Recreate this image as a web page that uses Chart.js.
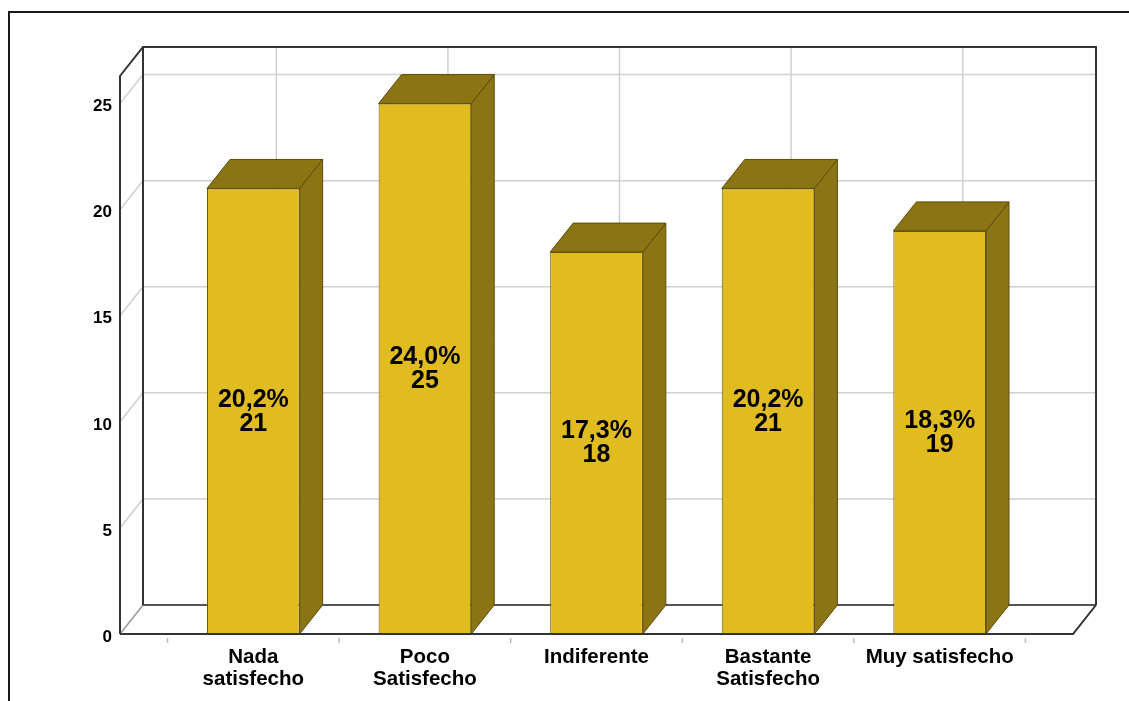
<!DOCTYPE html>
<html>
<head>
<meta charset="utf-8">
<script src="https://cdn.jsdelivr.net/npm/chart.js@4.4.1/dist/chart.umd.min.js"></script>
<style>
  html, body { margin: 0; padding: 0; background: #fff; }
  #wrap { width: 1129px; height: 701px; }
</style>
</head>
<body>
<div id="wrap"><canvas id="myChart" width="1129" height="701"></canvas></div>
<script>
'use strict';
const categories = [['Nada', 'satisfecho'], ['Poco', 'Satisfecho'], ['Indiferente'], ['Bastante', 'Satisfecho'], ['Muy satisfecho']];
const counts = [21, 25, 18, 21, 19];
const percents = [20.2, 24.0, 17.3, 20.2, 18.3];
const yTicks = [0, 5, 10, 15, 20, 25];

// depth of the 3D box (pixels)
const DX = 23;
const DY = 29;
const FONT = '"Liberation Sans", Arial, sans-serif';

function line(c, pts, color, width) {
  c.strokeStyle = color;
  c.lineWidth = width;
  c.beginPath();
  c.moveTo(pts[0][0], pts[0][1]);
  for (let i = 1; i < pts.length; i++) c.lineTo(pts[i][0], pts[i][1]);
  c.stroke();
}

function poly(c, pts, fill, stroke) {
  c.beginPath();
  c.moveTo(pts[0][0], pts[0][1]);
  for (let i = 1; i < pts.length; i++) c.lineTo(pts[i][0], pts[i][1]);
  c.closePath();
  c.fillStyle = fill;
  c.fill();
  c.strokeStyle = stroke;
  c.lineWidth = 1;
  c.stroke();
}

const box3d = {
  id: 'box3d',
  beforeDraw(chart) {
    const c = chart.ctx;
    c.save();
    c.fillStyle = '#fff';
    c.fillRect(0, 0, chart.width, chart.height);
    line(c, [[9, chart.height], [9, 12], [chart.width, 12]], '#1a1a1a', 2);
    c.restore();
  },
  beforeDatasetsDraw(chart) {
    const c = chart.ctx;
    const { left, right, top, bottom } = chart.chartArea;
    const xs = chart.scales.x, ys = chart.scales.y;
    c.save();
    // back wall and left wall grid
    yTicks.forEach(v => {
      if (v === 0) return;
      const py = ys.getPixelForValue(v);
      line(c, [[left, py], [left + DX, py - DY], [right + DX, py - DY]], '#d0d0d0', 1.5);
    });
    categories.forEach((_, i) => {
      const px = xs.getPixelForValue(i) + DX;
      line(c, [[px, top - DY], [px, bottom - DY]], '#d0d0d0', 1.5);
    });
    // floor
    line(c, [[left, bottom], [left + DX, bottom - DY]], '#999', 1.5);
    line(c, [[left + DX, bottom - DY], [right + DX, bottom - DY]], '#555', 2);
    // box frame
    line(c, [[left, bottom], [left, top], [left + DX, top - DY], [right + DX, top - DY], [right + DX, bottom - DY]], '#333', 2);
    line(c, [[left + DX, top - DY], [left + DX, bottom - DY]], '#333', 2);
    c.restore();
  },
  afterDatasetsDraw(chart) {
    const c = chart.ctx;
    const { left, right, bottom } = chart.chartArea;
    const xs = chart.scales.x;
    const meta = chart.getDatasetMeta(0);
    c.save();
    meta.data.forEach(bar => {
      const { x, y, base, width } = bar.getProps(['x', 'y', 'base', 'width'], true);
      const x0 = x - width / 2, x1 = x + width / 2;
      // side face
      poly(c, [[x1, y], [x1 + DX, y - DY], [x1 + DX, base - DY], [x1, base]], '#8a7414', '#5c4d0c');
      // top face
      poly(c, [[x0, y], [x0 + DX, y - DY], [x1 + DX, y - DY], [x1, y]], '#8a7414', '#5c4d0c');
    });
    // front floor edge and category ticks
    line(c, [[left, bottom], [right, bottom], [right + DX, bottom - DY]], '#333', 2);
    for (let i = 0; i <= categories.length; i++) {
      const px = xs.getPixelForValue(i - 0.5);
      line(c, [[px, bottom + 4], [px, bottom + 9]], '#bbb', 1.5);
    }
    // value labels
    c.fillStyle = '#000';
    c.font = 'bold 25px ' + FONT;
    c.textAlign = 'center';
    c.textBaseline = 'middle';
    meta.data.forEach((bar, i) => {
      const { x, y, base } = bar.getProps(['x', 'y', 'base'], true);
      const mid = (y + base) / 2;
      c.fillText(percents[i].toFixed(1).replace('.', ',') + '%', x, mid - 11.5);
      c.fillText(String(counts[i]), x, mid + 12.5);
    });
    c.restore();
  }
};

const myChart = new Chart(document.getElementById('myChart'), {
  type: 'bar',
  data: {
    datasets: [
      {
        label: 'Frecuencia',
        data: counts.map((v, i) => ({ x: i, y: v })),
        backgroundColor: '#e1bc20',
        borderColor: '#6b5a10',
        borderWidth: 1,
        barPercentage: 0.54,
        categoryPercentage: 1,
      },
    ],
  },
  options: {
    responsive: false,
    animation: false,
    layout: { padding: { top: 76, right: 56, left: 0, bottom: 0 } },
    plugins: { legend: { display: false }, tooltip: { enabled: false } },
    scales: {
      x: {
        type: 'linear',
        offset: false,
        min: -0.777,
        max: 4.777,
        grid: { display: false, offset: false },
        border: { display: false },
        afterBuildTicks: scale => {
          scale.ticks = categories.map((_, i) => ({ value: i }));
        },
        afterFit: scale => { scale.height = 67; },
        ticks: {
          autoSkip: false,
          maxRotation: 0,
          padding: 5,
          color: '#000',
          font: { family: FONT, size: 20.5, weight: 'bold', lineHeight: 1.05 },
          callback: value => categories[value],
        },
      },
      y: {
        min: 0,
        max: 26.3,
        grid: { display: false },
        border: { display: false },
        afterFit: scale => { scale.width = 120; },
        ticks: {
          stepSize: 5,
          includeBounds: false,
          padding: 0,
          labelOffset: 3,
          color: '#000',
          font: { family: FONT, size: 17, weight: 'bold' },
        },
      },
    },
  },
  plugins: [box3d],
});
</script>
</body>
</html>
